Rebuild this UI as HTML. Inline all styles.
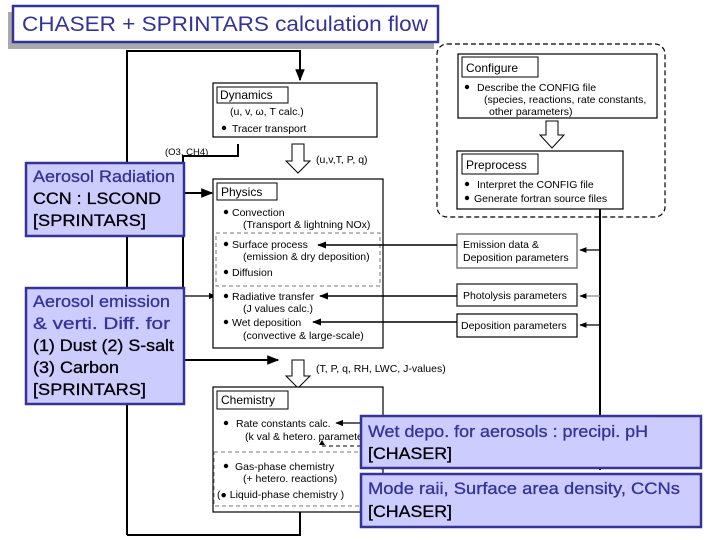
<!DOCTYPE html>
<html><head><meta charset="utf-8"><style>
html,body{margin:0;padding:0;background:#fff;width:720px;height:540px;overflow:hidden}
svg{display:block}
text{font-family:"Liberation Sans",sans-serif;font-size:10.5px;fill:#000}
.b{font-size:17px;fill:#333399;stroke:#333399;stroke-width:0.3}
.k{font-size:17px;fill:#000;stroke:#000;stroke-width:0.3}
</style></head><body>
<svg width="720" height="540" viewBox="0 0 720 540">
<defs>
<marker id="a" viewBox="0 0 10 10" refX="9" refY="5" markerWidth="6" markerHeight="6" orient="auto"><path d="M0,1L10,5L0,9z" fill="#000"/></marker>
</defs>
<!-- title -->
<rect x="8" y="12" width="426" height="37" fill="#aaa"/>
<rect x="13" y="6" width="425" height="36" fill="#fff" stroke="#333399" stroke-width="2.5"/>
<text x="22" y="31" textLength="406" lengthAdjust="spacingAndGlyphs" style="font-size:21px;fill:#333399">CHASER + SPRINTARS calculation flow</text>

<!-- main loop lines -->
<g stroke="#000" stroke-width="2" fill="none">
<polyline points="127,535 127,51 300,51 300,80" marker-end="url(#a)"/>
<polyline points="300,512 300,535 127,535"/>
<polyline points="238,144 238,156 183,156 183,360"/>
<line x1="184" y1="193" x2="212" y2="193" marker-end="url(#a)"/>
<line x1="184" y1="296" x2="216" y2="296" stroke-width="1.3" marker-end="url(#a)"/>
<line x1="184" y1="360" x2="278" y2="360" marker-end="url(#a)"/>
<line x1="600" y1="209" x2="600" y2="470"/>
</g>
<text x="165" y="155" style="font-size:9.5px">(O3, CH4)</text>

<!-- Dynamics -->
<rect x="213" y="83" width="164" height="54" fill="#fff" stroke="#000" stroke-width="1.2"/>
<rect x="217" y="87" width="71" height="16" fill="#fff" stroke="#000"/>
<text x="220" y="99" style="font-size:12px">Dynamics</text>
<text x="230" y="115">(u, v, ω, T calc.)</text>
<circle cx="224" cy="128" r="2.2"/><text x="232" y="132">Tracer transport</text>

<!-- hollow arrows -->
<path d="M292,144 H304 V161 H310 L298,173 L286,161 H292 Z" fill="#fff" stroke="#000"/>
<text x="316" y="163">(u,v,T, P, q)</text>
<path d="M292,360 H304 V376 H310 L298,388 L286,376 H292 Z" fill="#fff" stroke="#000"/>
<text x="316" y="372">(T, P, q, RH, LWC, J-values)</text>

<!-- Physics -->
<rect x="213" y="179" width="170" height="169" fill="#fff" stroke="#000" stroke-width="1.2"/>
<rect x="217" y="183" width="60" height="17" fill="#fff" stroke="#000"/>
<text x="221" y="196" style="font-size:12px">Physics</text>
<circle cx="226" cy="212" r="2.2"/><text x="232" y="216">Convection</text>
<text x="243" y="228">(Transport &amp; lightning NOx)</text>
<rect x="216" y="233" width="164" height="53" fill="none" stroke="#777" stroke-dasharray="4,3"/>
<circle cx="226" cy="244" r="2.2"/><text x="232" y="248">Surface process</text>
<text x="243" y="260">(emission &amp; dry deposition)</text>
<circle cx="226" cy="272" r="2.2"/><text x="232" y="276">Diffusion</text>
<circle cx="226" cy="296" r="2.2"/><text x="232" y="300">Radiative transfer</text>
<text x="243" y="312">(J values calc.)</text>
<circle cx="226" cy="322" r="2.2"/><text x="232" y="326">Wet deposition</text>
<text x="243" y="339">(convective &amp; large-scale)</text>

<!-- Chemistry -->
<rect x="213" y="387" width="170" height="125" fill="#fff" stroke="#000" stroke-width="1.2"/>
<rect x="217" y="391" width="71" height="18" fill="#fff" stroke="#000"/>
<text x="221" y="404" style="font-size:12px">Chemistry</text>
<circle cx="226" cy="423" r="2.2"/><text x="236" y="427">Rate constants calc.</text>
<text x="245" y="440">(k val &amp; hetero. parameters)</text>
<rect x="214" y="452" width="168" height="54" fill="none" stroke="#777" stroke-dasharray="4,3"/>
<circle cx="226" cy="466" r="2.2"/><text x="235" y="470">Gas-phase chemistry</text>
<text x="243" y="482">(+ hetero. reactions)</text>
<text x="217" y="498">(● Liquid-phase chemistry )</text>
<line x1="322" y1="446" x2="362" y2="446" stroke="#000" stroke-dasharray="4,3"/>
<path d="M319,445 L322,440 L325,445Z"/>
<line x1="362" y1="423" x2="336" y2="423" stroke="#000" stroke-width="1.3" marker-end="url(#a)"/>

<!-- right dashed region -->
<rect x="437" y="44" width="228" height="173" rx="10" fill="none" stroke="#000" stroke-dasharray="5,3" stroke-width="1.2"/>
<rect x="458" y="54" width="199" height="64" fill="#fff" stroke="#000" stroke-width="1.2"/>
<rect x="462" y="57" width="76" height="20" fill="#fff" stroke="#000"/>
<text x="466" y="72" style="font-size:12px">Configure</text>
<circle cx="467" cy="87" r="2.2"/><text x="477" y="91">Describe the CONFIG file</text>
<text x="484" y="103">(species, reactions, rate constants,</text>
<text x="489" y="115">other parameters)</text>
<path d="M546,121 H558 V135 H564 L552,148 L540,135 H546 Z" fill="#fff" stroke="#000"/>
<rect x="457" y="151" width="166" height="58" fill="#fff" stroke="#000" stroke-width="1.2"/>
<rect x="462" y="154" width="76" height="20" fill="#fff" stroke="#000"/>
<text x="466" y="169" style="font-size:12px">Preprocess</text>
<circle cx="467" cy="184" r="2.2"/><text x="477" y="188">Interpret the CONFIG file</text>
<circle cx="467" cy="198" r="2.2"/><text x="474" y="202">Generate fortran source files</text>

<!-- parameter boxes -->
<rect x="457" y="234" width="120" height="34" fill="#fff" stroke="#777" stroke-width="1.5"/>
<text x="463" y="248">Emission data &amp;</text>
<text x="463" y="261">Deposition parameters</text>
<rect x="457" y="284" width="120" height="22" fill="#fff" stroke="#444" stroke-width="1.5"/>
<text x="463" y="299">Photolysis parameters</text>
<rect x="457" y="314" width="120" height="23" fill="#fff" stroke="#000" stroke-width="1.2"/>
<text x="461" y="329">Deposition parameters</text>
<g stroke="#000" stroke-width="1.2">
<line x1="600" y1="250" x2="580" y2="250" marker-end="url(#a)"/>
<line x1="600" y1="296" x2="580" y2="296" stroke="#888" marker-end="url(#a)"/>
<line x1="600" y1="325" x2="580" y2="325" marker-end="url(#a)"/>
<line x1="457" y1="245" x2="318" y2="245" stroke-width="1.5" marker-end="url(#a)"/>
<line x1="457" y1="296" x2="320" y2="296" stroke-width="1.5" marker-end="url(#a)"/>
<line x1="457" y1="322" x2="313" y2="322" stroke-width="1.5" marker-end="url(#a)"/>
</g>

<!-- aerosol boxes -->
<rect x="26" y="163" width="158" height="73" fill="#ccccff" stroke="#333399" stroke-width="2.5"/>
<text x="33" y="182" class="b" textLength="142" lengthAdjust="spacingAndGlyphs">Aerosol Radiation</text>
<text x="33" y="204" class="k" textLength="128" lengthAdjust="spacingAndGlyphs">CCN : LSCOND</text>
<text x="33" y="226" class="k" textLength="113" lengthAdjust="spacingAndGlyphs">[SPRINTARS]</text>
<rect x="26" y="288" width="158" height="116" fill="#ccccff" stroke="#333399" stroke-width="2.5"/>
<text x="33" y="307" class="b" textLength="137" lengthAdjust="spacingAndGlyphs">Aerosol emission</text>
<text x="33" y="329" class="b" textLength="137" lengthAdjust="spacingAndGlyphs">&amp; verti. Diff. for</text>
<text x="33" y="351" class="k" textLength="141" lengthAdjust="spacingAndGlyphs">(1) Dust (2) S-salt</text>
<text x="33" y="373" class="k" textLength="86" lengthAdjust="spacingAndGlyphs">(3) Carbon</text>
<text x="33" y="395" class="k" textLength="113" lengthAdjust="spacingAndGlyphs">[SPRINTARS]</text>
<rect x="361" y="416" width="340" height="52" fill="#ccccff" stroke="#333399" stroke-width="2.5"/>
<text x="368" y="437" class="b" textLength="280" lengthAdjust="spacingAndGlyphs">Wet depo. for aerosols : precipi. pH</text>
<text x="368" y="459" class="k" textLength="84" lengthAdjust="spacingAndGlyphs">[CHASER]</text>
<rect x="361" y="474" width="340" height="53" fill="#ccccff" stroke="#333399" stroke-width="2.5"/>
<text x="368" y="494" class="b" textLength="312" lengthAdjust="spacingAndGlyphs">Mode raii, Surface area density,  CCNs</text>
<text x="368" y="517" class="k" textLength="84" lengthAdjust="spacingAndGlyphs">[CHASER]</text>
</svg>
</body></html>
